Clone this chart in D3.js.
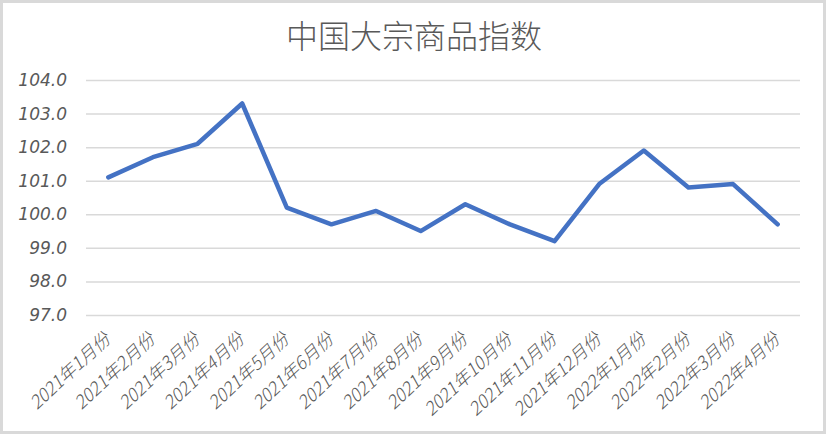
<!DOCTYPE html>
<html><head><meta charset="utf-8">
<script src="https://cdn.jsdelivr.net/npm/d3@7"></script>
<style>html,body{margin:0;padding:0;background:#fff;}svg{display:block;}</style>
</head><body>
<script>
const title = "中国大宗商品指数";
const categories = ["2021年1月份","2021年2月份","2021年3月份","2021年4月份","2021年5月份","2021年6月份","2021年7月份","2021年8月份","2021年9月份","2021年10月份","2021年11月份","2021年12月份","2022年1月份","2022年2月份","2022年3月份","2022年4月份"];
const values = [101.1,101.7,102.1,103.3,100.2,99.7,100.1,99.5,100.3,99.7,99.2,100.9,101.9,100.8,100.9,99.7];
const yTicks = [97,98,99,100,101,102,103,104];

const W = 826, H = 434;
const m = {left:86, right:26, top:80, bottom:119};
const svg = d3.select("body").append("svg").attr("width",W).attr("height",H);
svg.append("rect").attr("x",1.5).attr("y",1.5).attr("width",W-3).attr("height",H-3)
  .attr("fill","#fff").attr("stroke","#d9d9d9").attr("stroke-width",3);

const x = d3.scaleBand().domain(categories).range([m.left, W-m.right]);
const y = d3.scaleLinear().domain([97,104]).range([H-m.bottom, m.top]);

svg.append("text").attr("x",414).attr("y",48).attr("text-anchor","middle")
  .attr("font-family","'Noto Sans CJK SC', sans-serif").attr("font-size",32)
  .attr("font-weight",300).attr("fill","#595959").text(title);

const yAxis = svg.append("g").attr("transform",`translate(${m.left},0)`)
  .call(d3.axisLeft(y).tickValues(yTicks).tickSize(-(W-m.left-m.right)).tickFormat(d3.format(".1f")));
yAxis.select(".domain").remove();
yAxis.selectAll(".tick line").attr("stroke","#d9d9d9").attr("stroke-width",1.5);
yAxis.selectAll(".tick text").attr("x",-19).attr("fill","#595959")
  .attr("font-family","'DejaVu Sans', sans-serif").attr("font-size",17).attr("font-style","italic");

const xAxis = svg.append("g").attr("transform",`translate(0,${H-m.bottom})`)
  .call(d3.axisBottom(x).tickSize(0));
xAxis.select(".domain").remove();
xAxis.selectAll(".tick text")
  .attr("font-family","'Noto Sans CJK SC', sans-serif").attr("font-size",18).attr("fill","#595959")
  .attr("font-style","italic").attr("font-weight",300)
  .attr("text-anchor","end").attr("dy","0.35em").attr("x",0).attr("y",0)
  .attr("transform","translate(-1,21) rotate(-43)");

const line = d3.line().x((d,i)=>x(categories[i])+x.bandwidth()/2).y(d=>y(d));
svg.append("path").datum(values).attr("d",line).attr("fill","none")
  .attr("stroke","#4472C4").attr("stroke-width",4.5).attr("stroke-linejoin","round").attr("stroke-linecap","round");
</script>
</body></html>
